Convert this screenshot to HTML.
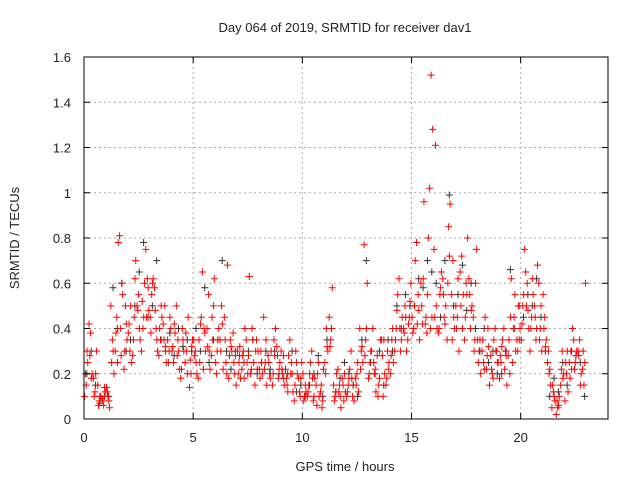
<!DOCTYPE html>
<html><head><meta charset="utf-8"><style>
body{margin:0;background:#fff}
svg{display:block;font-family:"Liberation Sans",sans-serif}
</style></head><body>
<svg id="chart" width="640" height="480">
<text x="345" y="32" font-size="13" text-anchor="middle" fill="#222">Day 064 of 2019, SRMTID for receiver dav1</text>
<text x="19" y="238" font-size="13" text-anchor="middle" fill="#222" transform="rotate(-90 19 238)">SRMTID / TECUs</text>
<text x="345" y="471" font-size="13" text-anchor="middle" fill="#222">GPS time / hours</text>
<g id="grid"></g>
<g id="gray"></g>
<g id="red"></g>
<rect x="84" y="57" width="524" height="362" fill="none" stroke="#000" stroke-width="1"/>
<g id="ticks"></g>
</svg>
<script>
const xTicks=[0,5,10,15,20];
const yTicks=[0,0.2,0.4,0.6,0.8,1,1.2,1.4,1.6];
const yTickLabels=["0","0.2","0.4","0.6","0.8","1","1.2","1.4","1.6"];
const hours=[];for(let h=0;h<23;h++)for(let k=0;k<5;k++)hours.push(+(h+0.1+0.2*k).toFixed(2));
const redA=[.15,.38,.12,.08,.06,.1,.35,.45,.28,.5,.3,.45,.55,.4,.62,.55,.4,.35,.5,.3,.25,.35,.4,.3,.2,.3,.25,.4,.55,.35,.3,.5,.25,.35,.2,.25,.3,.2,.4,.35,.3,.25,.2,.35,.18,.2,.15,.25,.3,.1,.1,.15,.08,.2,.05,.4,.35,.1,.15,.08,.15,.1,.2,.3,.35,.25,.2,.15,.1,.3,.35,.4,.3,.5,.45,.4,.55,.42,.38,1.52,1.21,.55,.45,.85,.7,.45,.72,.6,.4,.35,.3,.25,.4,.2,.3,.25,.3,.2,.45,.5,.5,.6,.45,.35,.4,.45,.2,.12,.05,.3,.2,.3,.25,.35,.15];
const redB=[.25,.2,.3,.1,.12,.05,.2,.78,.55,.35,.25,.7,.35,.6,.48,.62,.3,.45,.25,.4,.38,.22,.3,.45,.35,.2,.45,.3,.22,.62,.4,.22,.68,.3,.15,.18,.4,.63,.25,.3,.2,.15,.3,.4,.25,.15,.28,.12,.2,.25,.12,.25,.18,.1,.22,.3,.58,.2,.05,.12,.22,.08,.12,.25,.6,.3,.12,.35,.2,.25,.25,.55,.45,.3,.6,.7,.35,.96,.8,1.28,.4,.65,.5,.95,.4,.3,.55,.8,.5,.75,.2,.45,.15,.35,.25,.35,.15,.62,.3,.4,.75,.4,.55,.68,.3,.35,.15,.08,.1,.2,.12,.4,.3,.2,.6];
const redC=[.1,.42,.18,.15,.09,.14,.5,.3,.81,.22,.38,.28,.5,.3,.75,.45,.58,.28,.42,.35,.3,.5,.18,.25,.14,.35,.18,.65,.4,.28,.25,.35,.45,.18,.38,.3,.22,.35,.2,.15,.22,.45,.28,.15,.32,.3,.22,.35,.08,.18,.2,.1,.3,.15,.12,.25,.45,.15,.22,.18,.1,.3,.18,.4,.77,.18,.4,.28,.35,.15,.2,.3,.62,.4,.35,.45,.78,.6,.42,1.02,.75,.38,.62,.35,.55,.5,.65,.35,.62,.45,.35,.3,.22,.28,.4,.18,.4,.28,.25,.35,.35,.65,.3,.5,.6,.55,.25,.05,.02,.15,.08,.25,.35,.3,.22];
const redD=[.2,.28,.1,.06,.08,.12,.25,.38,.4,.3,.42,.35,.48,.52,.45,.38,.48,.4,.35,.25,.32,.28,.22,.38,.26,.28,.35,.22,.32,.45,.2,.3,.35,.28,.25,.2,.28,.25,.22,.3,.18,.22,.25,.2,.28,.22,.18,.2,.15,.12,.08,.12,.18,.06,.15,.2,.32,.08,.12,.15,.12,.18,.15,.22,.28,.2,.25,.1,.28,.18,.28,.35,.4,.38,.42,.38,.42,.5,.45,.4,.45,.4,.55,.6,.35,.4,.5,.45,.55,.3,.25,.35,.28,.22,.3,.28,.22,.35,.4,.3,.42,.5,.4,.45,.35,.4,.3,.15,.08,.22,.25,.18,.22,.28,.3];
const redE=[.3,.18,.2,.1,.14,.08,.3,.25,.6,.42,.5,.62,.4,.45,.58,.6,.35,.5,.32,.45,.42,.3,.35,.2,.32,.25,.42,.38,.3,.5,.35,.42,.2,.32,.28,.32,.18,.28,.35,.22,.25,.35,.18,.28,.22,.28,.12,.2,.25,.18,.15,.2,.1,.25,.08,.32,.4,.12,.1,.2,.18,.15,.25,.32,.4,.3,.22,.18,.35,.22,.4,.48,.35,.45,.52,.5,.48,.62,.55,.45,.5,.58,.42,.72,.45,.62,.4,.55,.48,.6,.35,.22,.32,.18,.25,.32,.28,.45,.55,.35,.55,.48,.62,.4,.5,.32,.22,.1,.06,.18,.3,.22,.28,.15,.25];
const grayG=[.2,.3,.15,.07,.1,.1,.58,.4,.6,.3,.35,.5,.65,.78,.45,.5,.7,.35,.3,.38,.28,.4,.32,.35,.3,.4,.3,.58,.25,.35,.35,.7,.3,.22,.3,.28,.25,.3,.35,.2,.25,.3,.22,.3,.2,.18,.2,.3,.12,.15,.1,.15,.2,.28,.1,.35,.4,.12,.18,.25,.2,.15,.1,.35,.7,.25,.2,.3,.15,.35,.3,.5,.4,.55,.5,.5,.62,.58,.7,.65,.6,.45,.7,.99,.5,.55,.68,.48,.6,.4,.3,.4,.25,.3,.2,.2,.3,.66,.4,.5,.45,.55,.5,.62,.45,.3,.1,.18,.12,.25,.15,.3,.28,.25,.1];
const X0=84,X1=608,Y0=419,Y1=57,XMAX=24,YMAX=1.6;
const sx=v=>X0+v/XMAX*(X1-X0), sy=v=>Y0-v/YMAX*(Y0-Y1);
const NS="http://www.w3.org/2000/svg";
function mk(tag,attrs,parent){const e=document.createElementNS(NS,tag);for(const k in attrs)e.setAttribute(k,attrs[k]);parent.appendChild(e);return e;}
const grid=document.getElementById('grid'),ticks=document.getElementById('ticks');
xTicks.forEach(v=>{const x=sx(v);
 if(v>0){const g=mk('line',{x1:x,x2:x,y1:Y1,y2:Y0,stroke:'#aaa','stroke-dasharray':'2,3'},grid);}
 mk('line',{x1:x,x2:x,y1:Y0,y2:Y0-6,stroke:'#000'},ticks);mk('line',{x1:x,x2:x,y1:Y1,y2:Y1+6,stroke:'#000'},ticks);
 const t=mk('text',{x:x,y:Y0+23,'font-size':13,'text-anchor':'middle',fill:'#222'},ticks);t.textContent=v;
 
 });
yTicks.forEach((v,i)=>{const y=sy(v);
 if(v>0&&v<YMAX){const g=mk('line',{x1:X0,x2:X1,y1:y,y2:y,stroke:'#aaa','stroke-dasharray':'2,3'},grid);}
 mk('line',{x1:X0,x2:X0+6,y1:y,y2:y,stroke:'#000'},ticks);mk('line',{x1:X1,x2:X1-6,y1:y,y2:y,stroke:'#000'},ticks);
 const t=mk('text',{x:X0-13,y:y+5,'font-size':13,'text-anchor':'end',fill:'#222'},ticks);t.textContent=yTickLabels[i];
 
 });
function plus(parent,t,v,color){const x=sx(t),y=sy(v);
 const p=mk('path',{d:`M${x-3.5},${y}H${x+3.5}M${x},${y-3.5}V${y+3.5}`,stroke:color,'stroke-width':1,fill:'none'},parent);
 
 }
const gray=document.getElementById('gray'),red=document.getElementById('red');
hours.forEach((h,i)=>plus(gray,h+0.03,grayG[i],'#333'));
hours.forEach((h,i)=>{plus(red,h,redA[i],'#f00');plus(red,h+0.07,redB[i],'#f00');plus(red,h-0.07,redC[i],'#f00');plus(red,h-0.035,redD[i],'#f00');plus(red,h+0.035,redE[i],'#f00');});
</script>
</body></html>
